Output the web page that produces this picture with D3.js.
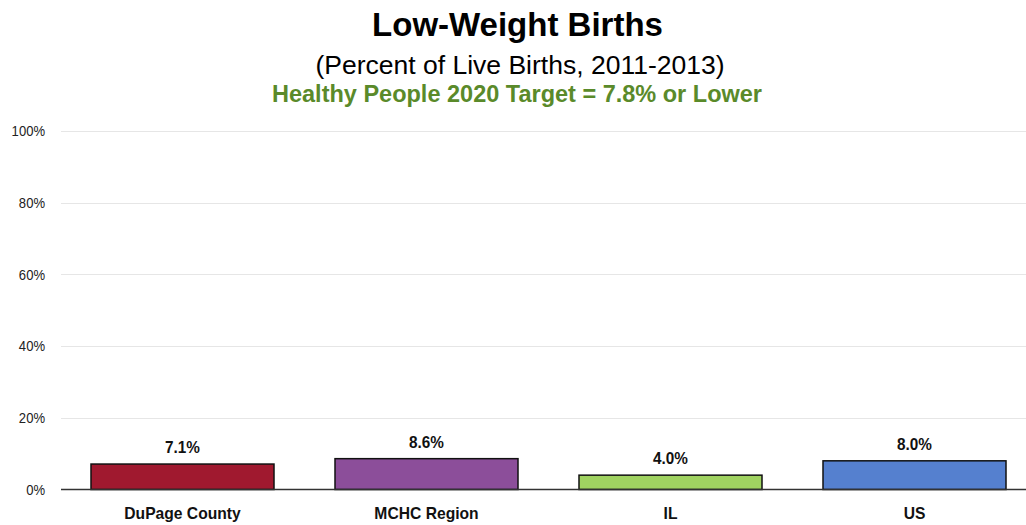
<!DOCTYPE html>
<html><head><meta charset="utf-8">
<script src="https://cdn.jsdelivr.net/npm/d3@7"></script>
<style>
html,body{margin:0;padding:0;background:#fff;}
svg{display:block;}
</style></head>
<body>
<svg id="chart" width="1026" height="525"></svg>
<script>
const categories = ["DuPage County", "MCHC Region", "IL", "US"];
const values = [7.1, 8.6, 4.0, 8.0];
const valueLabels = ["7.1%", "8.6%", "4.0%", "8.0%"];
const colors = ["#A0192F", "#8C4E9A", "#A0D361", "#5580CF"];
const yTicks = [0, 20, 40, 60, 80, 100];

const svg = d3.select("#chart");
const W = 1026, H = 525;
const x = d3.scaleBand().domain(categories).range([60.5, 1036.5]).paddingInner(0.25).paddingOuter(0.125);
const y = d3.scaleLinear().domain([0, 100]).range([489.5, 131]);

const sans = "'Liberation Sans',Arial,sans-serif";

function condense(sel, f) {
  sel.each(function () {
    const len = this.getComputedTextLength();
    d3.select(this).attr("textLength", len * f).attr("lengthAdjust", "spacingAndGlyphs");
  });
}

// titles
svg.append("text").attr("x", 517.5).attr("y", 36).attr("text-anchor", "middle")
  .style("font-family", sans).style("font-weight", "bold").style("font-size", "33px").attr("fill", "#000")
  .text("Low-Weight Births");
svg.append("text").attr("x", 520).attr("y", 74).attr("text-anchor", "middle")
  .style("font-family", sans).style("font-size", "26.5px").attr("fill", "#000")
  .text("(Percent of Live Births, 2011-2013)");
svg.append("text").attr("x", 517).attr("y", 102).attr("text-anchor", "middle")
  .style("font-family", sans).style("font-weight", "bold").style("font-size", "23.5px").attr("fill", "#5A8A2A")
  .text("Healthy People 2020 Target = 7.8% or Lower");

// y axis labels
const yAxis = d3.axisLeft(y).tickValues(yTicks).tickFormat(d => d + "%").tickSize(0).tickPadding(16);
const gy = svg.append("g").attr("transform", "translate(61,0)").call(yAxis);
gy.select(".domain").remove();
gy.selectAll("text").style("font-family", sans).style("font-size", "14.5px").attr("fill", "#222").call(condense, 0.9);

// gridlines
svg.append("g").selectAll("line").data(yTicks.filter(d => d > 0)).join("line")
  .attr("x1", 61).attr("x2", W).attr("y1", d => Math.round(y(d)) + 0.5).attr("y2", d => Math.round(y(d)) + 0.5)
  .attr("stroke", "#e6e6e6").attr("stroke-width", 1.2);

// bars
svg.append("g").selectAll("rect").data(categories).join("rect")
  .attr("x", d => x(d)).attr("width", x.bandwidth())
  .attr("y", (d, i) => y(values[i])).attr("height", (d, i) => y(0) - y(values[i]))
  .attr("fill", (d, i) => colors[i]).attr("stroke", "#111").attr("stroke-width", 1.5);

// baseline
svg.append("line").attr("x1", 61).attr("x2", W).attr("y1", y(0)).attr("y2", y(0))
  .attr("stroke", "#333").attr("stroke-width", 1.3);

// value labels
svg.append("g").selectAll("text").data(categories).join("text")
  .attr("x", d => x(d) + x.bandwidth() / 2).attr("y", (d, i) => y(values[i]) - 11)
  .attr("text-anchor", "middle").style("font-family", sans).style("font-weight", "bold").style("font-size", "17px").attr("fill", "#111")
  .text((d, i) => valueLabels[i]).call(condense, 0.9);

// category axis labels
const xAxis = d3.axisBottom(x).tickSize(0).tickPadding(17);
const gx = svg.append("g").attr("transform", "translate(0,489.5)").call(xAxis);
gx.select(".domain").remove();
gx.selectAll("text").style("font-family", sans).style("font-weight", "bold").style("font-size", "17px").attr("fill", "#111").call(condense, 0.92);
</script>
</body></html>
